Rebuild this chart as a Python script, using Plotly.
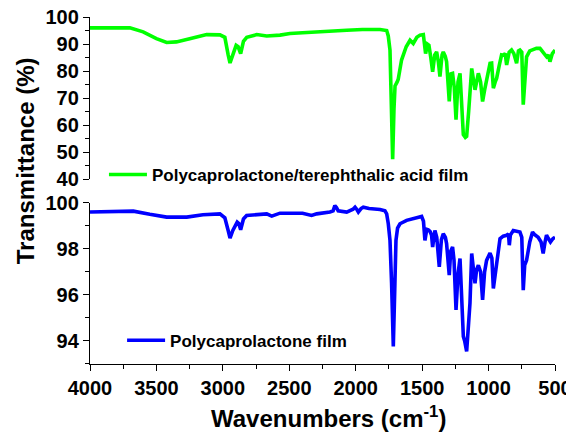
import plotly.graph_objects as go

# Top spectrum: Polycaprolactone/terephthalic acid film
wn_top = [4000, 3850, 3700, 3600, 3500, 3423, 3350, 3250, 3122, 3022, 2985, 2960, 2946, 2925, 2900, 2885,
          2866, 2845, 2820, 2745, 2670, 2570, 2495, 2400, 2319, 2200, 2068, 1950, 1817, 1767, 1755, 1742,
          1730, 1722, 1712, 1704, 1688, 1680, 1655, 1620, 1591, 1567, 1540, 1516, 1491, 1474, 1460, 1449,
          1435, 1421, 1405, 1391, 1378, 1366, 1350, 1341, 1326, 1316, 1296, 1283, 1271, 1258, 1245, 1230,
          1215, 1200, 1190, 1175, 1165, 1150, 1135, 1127, 1102, 1090, 1077, 1060, 1045, 1030, 1015, 989,
          977, 964, 950, 939, 920, 902, 889, 875, 864, 845, 827, 810, 789, 775, 764, 750, 739, 730, 714,
          690, 660, 640, 613, 590, 575, 563, 550, 538, 520, 500]
t_top = [96.0, 96.1, 96.0, 94.5, 92.0, 90.6, 90.8, 92.0, 93.5, 93.4, 92.5, 86.0, 83.0, 86.0, 89.5, 89.0,
         86.5, 91.0, 92.5, 93.5, 93.0, 93.3, 93.9, 94.2, 94.5, 94.8, 95.1, 95.4, 95.4, 95.0, 93.0, 87.8,
         65.0, 47.5, 66.0, 74.5, 76.0, 77.0, 84.1, 89.0, 91.4, 90.2, 92.5, 93.3, 93.5, 86.5, 90.0, 89.6,
         85.0, 79.8, 86.0, 87.1, 83.5, 78.0, 86.0, 87.1, 85.5, 83.5, 68.8, 79.0, 79.2, 74.0, 62.1, 76.0,
         79.2, 68.0, 56.5, 55.5, 55.9, 65.0, 79.0, 81.0, 73.1, 77.0, 79.2, 76.0, 68.8, 73.0, 76.7, 82.9,
         83.0, 73.7, 76.0, 77.4, 82.0, 86.0, 85.9, 86.5, 82.3, 87.0, 87.8, 86.5, 82.9, 87.5, 87.8, 87.0,
         67.6, 75.0, 85.3, 87.5, 88.0, 88.4, 88.4, 87.0, 85.8, 85.3, 86.0, 83.5, 86.5, 87.8]

# Bottom spectrum: Polycaprolactone film
wn_bot = [4000, 3850, 3674, 3550, 3423, 3272, 3150, 3022, 2985, 2960, 2946, 2925, 2892, 2880, 2866, 2845,
          2821, 2670, 2632, 2570, 2400, 2332, 2294, 2194, 2170, 2157, 2145, 2132, 2068, 2020, 2005, 1990,
          1980, 1960, 1943, 1900, 1817, 1780, 1767, 1755, 1742, 1730, 1717, 1705, 1697, 1685, 1667, 1617,
          1550, 1504, 1490, 1479, 1465, 1454, 1440, 1429, 1421, 1410, 1404, 1390, 1371, 1355, 1341, 1325,
          1316, 1296, 1285, 1271, 1260, 1245, 1230, 1215, 1205, 1190, 1180, 1165, 1150, 1140, 1127, 1102,
          1090, 1077, 1060, 1045, 1030, 1015, 989, 975, 964, 950, 939, 914, 890, 864, 850, 844, 836, 814,
          790, 764, 750, 739, 728, 714, 690, 669, 650, 627, 605, 589, 575, 564, 550, 534, 515, 500]
t_bot = [99.6, 99.62, 99.64, 99.5, 99.38, 99.38, 99.48, 99.52, 99.35, 98.8, 98.47, 98.8, 99.16, 99.1, 98.83, 99.3,
         99.45, 99.52, 99.42, 99.55, 99.55, 99.45, 99.52, 99.6, 99.65, 99.88, 99.8, 99.65, 99.6, 99.72, 99.81, 99.7,
         99.6, 99.75, 99.81, 99.75, 99.71, 99.65, 99.52, 99.1, 98.37, 96.5, 93.76, 96.5, 98.37, 98.9, 99.09, 99.24,
         99.35, 99.41, 99.2, 98.37, 98.85, 98.83, 98.75, 98.59, 98.08, 98.6, 98.8, 98.5, 97.22, 98.4, 98.66, 98.5,
         98.23, 96.86, 97.9, 98.08, 97.5, 95.35, 96.9, 97.58, 96.5, 94.2, 94.0, 93.55, 94.8, 95.64, 97.8, 96.5,
         97.1, 97.29, 97.0, 95.78, 97.0, 97.5, 97.82, 97.6, 96.28, 97.0, 97.36, 98.44, 98.55, 98.59, 98.65, 98.16, 98.6, 98.8,
         98.75, 98.73, 98.5, 96.21, 97.3, 97.5, 98.3, 98.73, 98.6, 98.5, 98.3, 97.8, 98.3, 98.6, 98.45, 98.3, 98.45, 98.5]

x_ticks = [4000, 3500, 3000, 2500, 2000, 1500, 1000, 500]
label_top = "Polycaprolactone/terephthalic acid film"
label_bot = "Polycaprolactone film"

FONT = "Arial, Liberation Sans, sans-serif"

fig = go.Figure()
fig.add_trace(go.Scatter(x=wn_top, y=t_top, mode="lines", name=label_top, showlegend=True,
                         line=dict(color="#00ff00", width=3.6), xaxis="x2", yaxis="y2",
                         legend="legend"))
fig.add_trace(go.Scatter(x=wn_bot, y=t_bot, mode="lines", name=label_bot, showlegend=True,
                         line=dict(color="#0000ff", width=3.6), xaxis="x", yaxis="y",
                         legend="legend2"))

axis_common = dict(showgrid=False, zeroline=False, ticks="outside", ticklen=6, tickwidth=1.3,
                   tickcolor="black", linecolor="black", linewidth=1.3, automargin=False,
                   ticklabeloverflow="allow",
                   tickfont=dict(family=FONT, size=20, color="black", weight="bold"))
minor_common = dict(ticks="outside", ticklen=4, tickcolor="black", tickwidth=1.3)

fig.update_layout(
    template="none",
    showlegend=True,
    width=574, height=432,
    margin=dict(l=82, r=27, t=9, b=76),
    paper_bgcolor="white", plot_bgcolor="white",
    font=dict(family=FONT, color="black"),
    xaxis=dict(range=[4000, 500], tickvals=x_ticks, showline=True, anchor="y",
               minor=dict(dtick=250, **minor_common), **axis_common),
    xaxis2=dict(range=[4000, 500], visible=False, anchor="y2", matches="x"),
    yaxis=dict(domain=[0, 0.4645], range=[93, 100], dtick=2, showline=True, anchor="x",
               minor=dict(dtick=1, **minor_common), **axis_common),
    yaxis2=dict(domain=[0.532, 1], range=[40, 100], dtick=10, showline=True, anchor="x2",
                minor=dict(dtick=5, **minor_common), **axis_common),
    legend=dict(x=0.03, y=0.545, xanchor="left", yanchor="middle", bgcolor="rgba(0,0,0,0)",
                itemwidth=38, font=dict(family=FONT, size=17, color="black", weight="bold")),
    legend2=dict(x=0.069, y=0.067, xanchor="left", yanchor="middle", bgcolor="rgba(0,0,0,0)",
                 itemwidth=38, font=dict(family=FONT, size=17, color="black", weight="bold")),
    annotations=[
        dict(text="Transmittance (%)", textangle=-90, xref="paper", yref="paper",
             x=-0.14, y=0.587, xanchor="center", yanchor="middle", showarrow=False,
             font=dict(family=FONT, size=24, color="black", weight="bold")),
        dict(text="Wavenumbers (cm<sup>-1</sup>)", xref="paper", yref="paper",
             x=0.512, y=-0.153, xanchor="center", yanchor="middle", showarrow=False,
             font=dict(family=FONT, size=24, color="black", weight="bold")),
    ],
)

fig.write_html("out.html")
